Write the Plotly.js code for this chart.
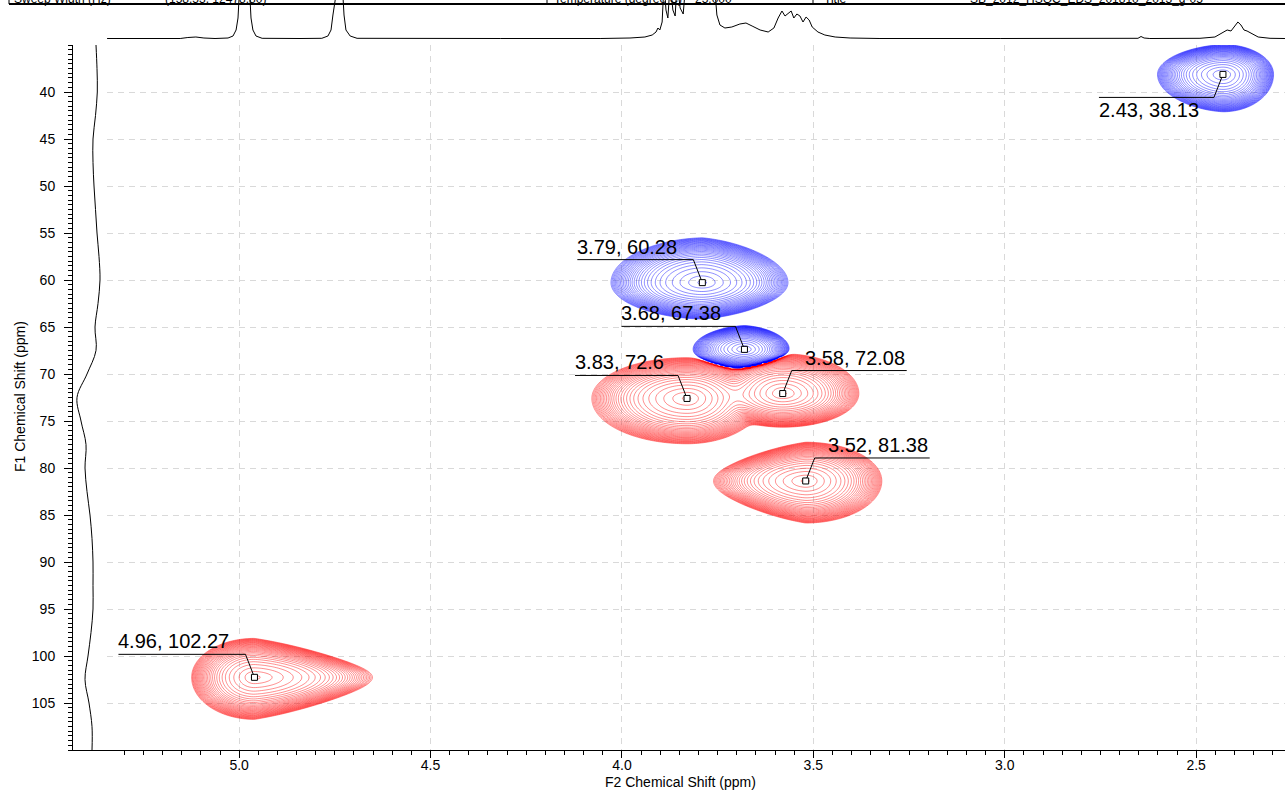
<!DOCTYPE html>
<html><head><meta charset="utf-8">
<script src="https://cdn.plot.ly/plotly-3.0.1.min.js"></script>
<style>html,body{margin:0;padding:0;background:#fff;overflow:hidden}#chart{width:1285px;height:790px}</style>
</head><body><div id="chart"></div>
<script>
// ---------------- data ----------------
// picked cross peaks: F2 (1H, ppm), F1 (13C, ppm), phase (+1 red / -1 blue)
const peakF2 = [2.43, 3.79, 3.68, 3.83, 3.58, 3.52, 4.96];
const peakF1 = [38.13, 60.28, 67.38, 72.6, 72.08, 81.38, 102.27];
const peakPhase = [-1, -1, -1, 1, 1, 1, 1];
const peakAmp = [1, 1, 1, 1, 1, 1, 1];
// peak footprint half-extents (ppm) to higher-F2 / lower-F2 / lower-F1 / higher-F1 side
const extHiF2 = [0.172, 0.24, 0.135, 0.25, 0.18, 0.242, 0.165];
const extLoF2 = [0.133, 0.225, 0.118, 0.20, 0.20, 0.20, 0.31];
const extLoF1 = [3.2, 4.8, 2.55, 4.36, 4.26, 4.15, 4.17];
const extHiF1 = [4.0, 3.9, 2.3, 4.85, 3.6, 4.5, 4.5];
const taperHiF2 = [0.1, 0.05, 0.1, 0, 0, 0.35, 0];
const taperLoF2 = [0, 0.18, 0.1, 0, 0, 0, 0.45];

// 1D projection on top (F2 ppm, intensity a.u.)
const topF2 = [5.345,5.154,5.134,5.113,5.092,5.063,5.029,5.016,5.008,5.003,4.998,4.987,4.974,4.969,4.964,4.956,4.940,4.841,4.784,4.768,4.760,4.755,4.750,4.742,4.731,4.726,4.721,4.710,4.692,4.580,4.318,4.057,3.979,3.940,3.921,3.911,3.906,3.901,3.895,3.890,3.885,3.880,3.874,3.867,3.861,3.856,3.848,3.840,3.833,3.822,3.796,3.759,3.752,3.744,3.731,3.713,3.692,3.676,3.660,3.639,3.618,3.603,3.592,3.582,3.574,3.566,3.558,3.551,3.543,3.535,3.527,3.519,3.511,3.503,3.488,3.470,3.443,3.404,3.326,3.012,2.751,2.652,2.644,2.636,2.621,2.490,2.451,2.432,2.419,2.409,2.401,2.391,2.383,2.375,2.367,2.354,2.338,2.307,2.268];
const topInt = [3.5,3.5,4.5,5,4,3.5,4,6,12,24,60,60,60,24,12,6,3.7,3.5,3.7,6,12,27,60,60,60,27,12,6,3.7,3.5,3.5,3.5,4,5,7,10,14,12,20,60,32,24,60,32,26,60,34,28,60,60,60,60,27,17,14,15,18,19,16,12,10,14,24,31,26,29,31,24,28,26,20,25,22,15,10,7,5,4,3.5,3.5,3.5,3.7,5.5,4,3.5,3.7,5,9,12,11,15,20,17,12,11,8,5,3.7,3.5];

// 1D projection on the left (F1 ppm, intensity a.u.)
const leftF1 = [35,37.5,40,42.5,45,47.5,50,52.5,55,57.5,60,62.5,65,67.5,70,72.5,75,77.5,80,82.5,85,87.5,90,92.5,95,97.5,100,102.5,105,107.5,110];
const leftInt = [11,10,9.7,11.5,14,14,13,11.5,10,8,7,9,12,11,20,30,26,21,22,20,17,15,14,14,14,16,19,22,18,15,15];

// axis tick labels
const xTickVals = [5.0, 4.5, 4.0, 3.5, 3.0, 2.5];
const yTickVals = [40, 45, 50, 55, 60, 65, 70, 75, 80, 85, 90, 95, 100, 105];

// header table fragments (cut by the page top)
const headerText = ['Sweep Width (Hz)', '(158.53, 12478.80)', 'Temperature (degree C)', '25.000', 'Title', 'SB_2012_HSQC_EDS_201810_2013_g-05'];

// ---------------- styles / geometry ----------------
const W = 1285, H = 790;
const labelSide = ['left','left','left','left','right','right','left'];
const labelBelow = [true,false,false,false,false,false,false];
const labelLen = [115,116,114,103,115,115,127];
const headerX = [12, 163, 552, 693, 822, 968];
const headerSep = [9, 547, 813];

const X_RANGE = [5.3452, 2.2679];
const Y_RANGE = [110, 35];
const fontFam = 'Liberation Sans, Arial, sans-serif';

// ---------------- contour field from the peak list ----------------
function peakValue(i, x, y) {
  const dx = x - peakF2[i];
  const dy = y - peakF1[i];
  let u, taper;
  if (dx >= 0) { u = dx / extHiF2[i]; taper = taperHiF2[i]; }
  else { u = -dx / extLoF2[i]; taper = taperLoF2[i]; }
  let sy = dy < 0 ? extLoF1[i] : extHiF1[i];
  sy *= Math.max(0.2, 1 - taper * Math.min(u, 1.5));
  const v = dy / sy;
  const r = Math.sqrt(u * u + v * v);
  const g = 2 * r + 4 * r * r * r * r;
  if (g > 40) return 0;
  return peakPhase[i] * peakAmp[i] * Math.exp(-g);
}
const xs = [], ys = [];
for (let x = Math.min(...X_RANGE); x <= Math.max(...X_RANGE); x += 0.0055) xs.push(x);
for (let y = Math.min(...Y_RANGE); y <= Math.max(...Y_RANGE); y += 0.15) ys.push(y);
const zPos = [], zNeg = [];
for (let j = 0; j < ys.length; j++) {
  const rp = new Array(xs.length), rn = new Array(xs.length);
  for (let k = 0; k < xs.length; k++) {
    let f = 0;
    for (let i = 0; i < peakF2.length; i++) f += peakValue(i, xs[k], ys[j]);
    rp[k] = Math.log(Math.max(f, 1e-12));
    rn[k] = Math.log(Math.max(-f, 1e-12));
  }
  zPos.push(rp); zNeg.push(rn);
}
const levels = {start: -5.9, end: -0.08, size: 0.2, coloring: 'lines', showlabels: false};

const traces = [
  {type:'contour', x: xs, y: ys, z: zPos, xaxis:'x', yaxis:'y', autocontour:false, contours: levels,
   colorscale:[[0,'#ff0000'],[1,'#ff0000']], showscale:false, line:{width:0.45, smoothing:1}, hoverinfo:'skip'},
  {type:'contour', x: xs, y: ys, z: zNeg, xaxis:'x', yaxis:'y', autocontour:false, contours: levels,
   colorscale:[[0,'#0000ff'],[1,'#0000ff']], showscale:false, line:{width:0.45, smoothing:1}, hoverinfo:'skip'},
  {type:'scatter', mode:'lines', x: topF2, y: topInt, xaxis:'x3', yaxis:'y3', line:{color:'#000', width:1}, hoverinfo:'skip'},
  {type:'scatter', mode:'lines', x: leftInt, y: leftF1, xaxis:'x2', yaxis:'y4', line:{color:'#000', width:1, shape:'spline'}, hoverinfo:'skip'}
];

const shapes = [], annotations = [];
for (let i = 0; i < peakF2.length; i++) {
  const ly = labelBelow[i] ? -23 : 23;
  let start, elbow, textX;
  if (labelSide[i] === 'left') { elbow = -9; start = elbow - labelLen[i]; textX = start; }
  else { elbow = 9; start = elbow + labelLen[i]; textX = elbow + 13.5; }
  shapes.push({type:'path', xref:'x', yref:'y', xsizemode:'pixel', ysizemode:'pixel',
    xanchor: peakF2[i], yanchor: peakF1[i],
    path:`M ${start},${ly} L ${elbow},${ly} L 0,0`, line:{color:'#000', width:1}, layer:'above'});
  shapes.push({type:'rect', xref:'x', yref:'y', xsizemode:'pixel', ysizemode:'pixel',
    xanchor: peakF2[i], yanchor: peakF1[i], x0:-3, x1:3, y0:-3, y1:3,
    fillcolor:'#fff', line:{color:'#000', width:1}, layer:'above'});
  annotations.push({xref:'x', yref:'y', x: peakF2[i], y: peakF1[i], showarrow:false,
    text: `${peakF2[i]}, ${peakF1[i]}`, xanchor:'left', yanchor: labelBelow[i] ? 'top' : 'bottom',
    xshift: textX - 2, yshift: ly, font:{family: fontFam, size:20, color:'#000'}});
}
// header table
shapes.push({type:'line', xref:'paper', yref:'paper', x0: headerSep[0]/W, x1: 1, y0: 1-4/H, y1: 1-4/H, line:{color:'#000', width:2}});
headerSep.forEach(s => shapes.push({type:'line', xref:'paper', yref:'paper', x0: s/W, x1: s/W, y0: 1-4/H, y1: 1, line:{color:'#000', width:1}}));
headerText.forEach((t, k) => annotations.push({xref:'paper', yref:'paper', x: headerX[k]/W, y: 1, yanchor:'bottom', xanchor:'left',
  yshift: -8, showarrow:false, text: t, font:{family: fontFam, size: 12, color:'#000'}}));
// axis titles
annotations.push({xref:'paper', yref:'paper', x: 680/W, y: 1-782/H, xanchor:'center', yanchor:'middle', showarrow:false,
  text:'F2 Chemical Shift (ppm)', font:{family: fontFam, size:14, color:'#000'}});
annotations.push({xref:'paper', yref:'paper', x: 20/W, y: 1-397/H, xanchor:'center', yanchor:'middle', showarrow:false, textangle:-90,
  text:'F1 Chemical Shift (ppm)', font:{family: fontFam, size:14, color:'#000'}});

const gridStyle = {showgrid:true, gridcolor:'#d9d9d9', griddash:'6px,5px', gridwidth:1};
const yDom = [1 - 750/H, 1 - 45/H];
const layout = {
  width: W, height: H, margin:{l:0, r:0, t:0, b:0}, showlegend:false,
  paper_bgcolor:'#fff', plot_bgcolor:'#fff', font:{family: fontFam, size:14, color:'#000'},
  xaxis: Object.assign({domain:[107/W, 1], range: X_RANGE, anchor:'y', tickmode:'array', tickvals: xTickVals,
    ticktext: xTickVals.map(v => v.toFixed(1)), ticklabelstandoff: -5,
    ticks:'outside', ticklen:7, tickcolor:'#000', showline:true, linecolor:'#000', linewidth:1, zeroline:false,
    tickfont:{size:14}, minor:{tickmode:'linear', ticks:'outside', ticklen:4, tickcolor:'#000', dtick:0.05, tick0:2.5, showgrid:false}}, gridStyle),
  yaxis: Object.assign({domain: yDom, range: Y_RANGE, anchor:'x', tickmode:'array', tickvals: yTickVals, showticklabels:false,
    ticks:'', showline:false, zeroline:false}, gridStyle),
  xaxis2: {domain:[73/W, 107/W], range:[34, 0], anchor:'y4', showline:true, linecolor:'#000', linewidth:1, showgrid:false,
    zeroline:false, showticklabels:false, ticks:''},
  yaxis4: {domain: yDom, range: Y_RANGE, anchor:'x2', side:'left', tickmode:'array', tickvals: yTickVals, ticks:'outside', ticklen:8,
    tickcolor:'#000', showline:true, linecolor:'#000', linewidth:1, showgrid:false, zeroline:false, tickfont:{size:14},
    ticklabelstandoff: 6,
    minor:{tickmode:'linear', ticks:'outside', ticklen:4, tickcolor:'#000', dtick:0.5, tick0:0, showgrid:false}},
  xaxis3: {domain:[107/W, 1], range: X_RANGE, anchor:'y3', visible:false},
  yaxis3: {domain:[1 - 42/H, 1], range:[0, 42], anchor:'x3', visible:false},
  shapes, annotations
};
Plotly.newPlot('chart', traces, layout, {staticPlot:true, displayModeBar:false});
</script>
</body></html>
